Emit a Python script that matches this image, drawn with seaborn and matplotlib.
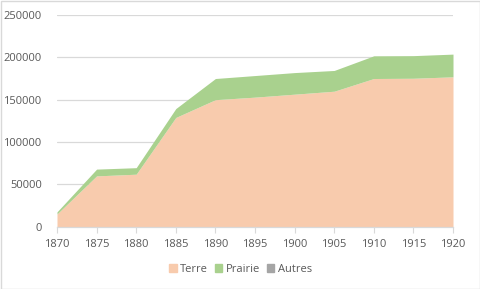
import matplotlib
matplotlib.use("Agg")
import matplotlib.pyplot as plt
import seaborn as sns
import numpy as np
from matplotlib.patches import Rectangle

years = [1870, 1875, 1880, 1885, 1890, 1895, 1900, 1905, 1910, 1915, 1920]
terre = [15000, 60000, 62000, 129000, 150000, 153000, 156500, 160000, 175000, 175300, 177000]
prairie = [2500, 8000, 7700, 10500, 25000, 25500, 25500, 24500, 26800, 26700, 26800]
autres = [0, 0, 0, 0, 0, 0, 0, 0, 0, 0, 0]
series_names = ["Terre", "Prairie", "Autres"]
colors = ["#F8CBAD", "#A9D18E", "#A5A5A5"]
y_ticks = [0, 50000, 100000, 150000, 200000, 250000]

sns.set_style("white")
plt.rcParams["font.family"] = ["Open Sans", "DejaVu Sans"]

fig = plt.figure(figsize=(4.81, 2.89), dpi=100)
ax = fig.add_axes([57/481, 1 - 226.7/289, (453 - 57)/481, (226.7 - 15)/289])

ax.stackplot(years, terre, prairie, autres, colors=colors, labels=series_names, linewidth=0)

ax.set_xlim(1870, 1920)
ax.set_ylim(0, 250000)
ax.set_yticks(y_ticks)
ax.set_yticklabels([str(v) for v in y_ticks])
ax.set_xticks(years)
ax.set_xticklabels([str(y) for y in years])
ax.yaxis.grid(True, color="#D9D9D9", linewidth=0.9)
ax.set_axisbelow(True)
for s in ["top", "right", "left"]:
    ax.spines[s].set_visible(False)
ax.spines["bottom"].set_color("#D9D9D9")
ax.spines["bottom"].set_linewidth(0.9)
ax.tick_params(axis="x", length=4, color="#D9D9D9", labelsize=8, labelcolor="#595959", pad=5, direction="out", bottom=True)
ax.tick_params(axis="y", length=0, labelsize=8, labelcolor="#595959", pad=11)

handles = [Rectangle((0, 0), 1, 1, color=c) for c in colors]
fig.legend(handles, series_names, loc="center", bbox_to_anchor=(0.5, 1 - 269/289), ncol=3,
           frameon=False, fontsize=8, labelcolor="#595959", handlelength=0.7, handleheight=0.7,
           handletextpad=0.3, columnspacing=0.6)

fig.patches.append(Rectangle((0.5/481, 0.5/289), 479.5/481, 287.5/289, transform=fig.transFigure,
                             fill=False, edgecolor="#D9D9D9", linewidth=1))

fig.savefig("out.png", dpi=100)
